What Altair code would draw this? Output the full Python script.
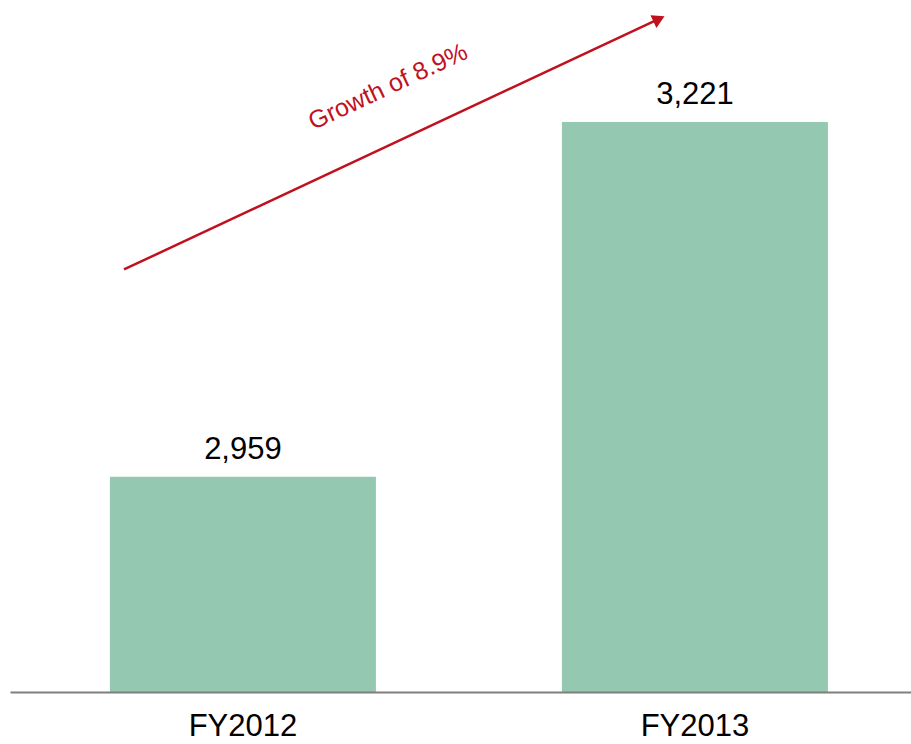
import altair as alt
import pandas as pd

years = ["FY2012", "FY2013"]
revenue = [2959, 3221]
axis_base = 2800

# growth arrow (x as fraction of plot width, y in value units)
arrow_x = [0.1265, 0.7203]
arrow_y = [3112, 3297]
head_x = [0.7203]
head_y = [3297]
note_x = [0.4195]
note_y = [3247]
note_text = ["Growth of 8.9%"]

bars_df = pd.DataFrame({"year": years, "value": revenue})
arrow_df = pd.DataFrame({"fx": [arrow_x[0]], "fy": [arrow_y[0]], "fx2": [arrow_x[1]], "fy2": [arrow_y[1]]})
head_df = pd.DataFrame({"fx": head_x, "fy": head_y})
note_df = pd.DataFrame({"fx": note_x, "fy": note_y, "t": note_text})

RED = "#C0111F"
GREEN = "#94C8B0"
FONT = "Liberation Sans"

xband = alt.Scale(type="band", paddingInner=0.4115, paddingOuter=0.2024, align=0.546)
yscale = alt.Scale(domain=[2800, 3311], zero=False, nice=False)
fscale = alt.Scale(domain=[0, 1], nice=False, zero=False)

bars = alt.Chart(bars_df).mark_bar(color=GREEN).encode(
    x=alt.X("year:N", scale=xband, sort=years, title=None,
            axis=alt.Axis(labelAngle=0, ticks=False, domainColor="#7f7f7f", domainWidth=2,
                          labelFontSize=31, labelFont=FONT, labelColor="#000000",
                          labelPadding=19, zindex=1)),
    y=alt.Y("value:Q", scale=yscale, axis=None),
    y2=alt.datum(axis_base),
)

labels = alt.Chart(bars_df).mark_text(baseline="alphabetic", dy=-18, fontSize=31, font=FONT, color="#000000").encode(
    x=alt.X("year:N", scale=xband, sort=years, axis=None),
    y=alt.Y("value:Q", scale=yscale, axis=None),
    text=alt.Text("value:Q", format=","),
)

arrow = alt.Chart(arrow_df).mark_rule(color=RED, strokeWidth=2.5).encode(
    x=alt.X("fx:Q", scale=fscale, axis=None),
    x2="fx2:Q",
    y=alt.Y("fy:Q", scale=yscale, axis=None),
    y2="fy2:Q",
)

head = alt.Chart(head_df).mark_point(shape="triangle-right", filled=True, color=RED, opacity=1,
                                      size=200, angle=335).encode(
    x=alt.X("fx:Q", scale=fscale, axis=None),
    y=alt.Y("fy:Q", scale=yscale, axis=None),
)

note = alt.Chart(note_df).mark_text(angle=335, fontSize=25, font=FONT, color=RED,
                                    align="center", baseline="middle").encode(
    x=alt.X("fx:Q", scale=fscale, axis=None),
    y=alt.Y("fy:Q", scale=yscale, axis=None),
    text="t:N",
)

chart = alt.layer(bars, labels, arrow, head, note).resolve_scale(x="independent").properties(
    width=901, height=692,
    autosize=alt.AutoSizeParams(type="none"),
    padding={"left": 10, "top": 0, "right": 0, "bottom": 52},
).configure_view(stroke=None)

chart.save("out.html", embed_options={"renderer": "svg", "actions": False})
